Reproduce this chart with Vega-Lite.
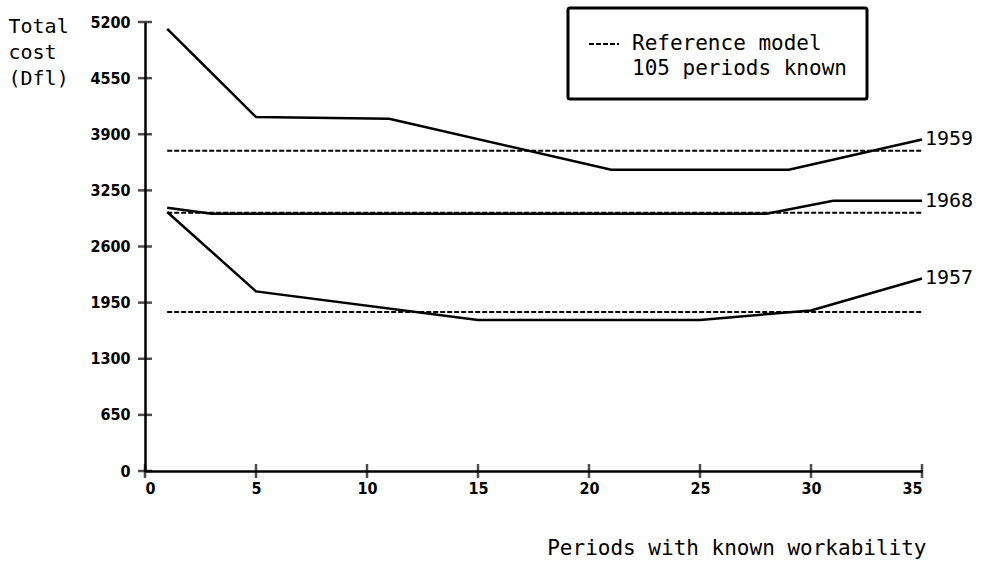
{
  "$schema": "https://vega.github.io/schema/vega-lite/v6.json",
  "width": 777,
  "height": 449,
  "autosize": "none",
  "padding": {"left": 145, "top": 22, "right": 64, "bottom": 90},
  "background": "white",
  "config": {
    "view": {"stroke": null},
    "font": "DejaVu Sans Mono",
    "axis": {
      "grid": false,
      "ticks": false,
      "domainColor": "black",
      "domainWidth": 2.5,
      "labelColor": "black",
      "labelFont": "Liberation Sans Narrow, DejaVu Sans Condensed, Liberation Sans",
      "labelFontWeight": "bold",
      "labelFontSize": 16,
      "titleColor": "black",
      "titleFont": "DejaVu Sans Mono",
      "titleFontSize": 20,
      "titleFontWeight": "normal"
    }
  },
  "datasets": {
    "costs": [
      {"series": "1959", "kind": "Modelled", "period": 1, "cost": 5120},
      {"series": "1959", "kind": "Modelled", "period": 5, "cost": 4100},
      {"series": "1959", "kind": "Modelled", "period": 11, "cost": 4080},
      {"series": "1959", "kind": "Modelled", "period": 21, "cost": 3490},
      {"series": "1959", "kind": "Modelled", "period": 29, "cost": 3490},
      {"series": "1959", "kind": "Modelled", "period": 35, "cost": 3840},
      {"series": "1968", "kind": "Modelled", "period": 1, "cost": 3050},
      {"series": "1968", "kind": "Modelled", "period": 3, "cost": 2980},
      {"series": "1968", "kind": "Modelled", "period": 28, "cost": 2980},
      {"series": "1968", "kind": "Modelled", "period": 31, "cost": 3130},
      {"series": "1968", "kind": "Modelled", "period": 35, "cost": 3130},
      {"series": "1957", "kind": "Modelled", "period": 1, "cost": 3000},
      {"series": "1957", "kind": "Modelled", "period": 5, "cost": 2080},
      {"series": "1957", "kind": "Modelled", "period": 15, "cost": 1750},
      {"series": "1957", "kind": "Modelled", "period": 25, "cost": 1750},
      {"series": "1957", "kind": "Modelled", "period": 30, "cost": 1860},
      {"series": "1957", "kind": "Modelled", "period": 35, "cost": 2230}
    ],
    "reference": [
      {"series": "1959", "model": "Reference model|105 periods known", "period": 1, "cost": 3710},
      {"series": "1959", "model": "Reference model|105 periods known", "period": 35, "cost": 3710},
      {"series": "1968", "model": "Reference model|105 periods known", "period": 1, "cost": 2990},
      {"series": "1968", "model": "Reference model|105 periods known", "period": 35, "cost": 2990},
      {"series": "1957", "model": "Reference model|105 periods known", "period": 1, "cost": 1840},
      {"series": "1957", "model": "Reference model|105 periods known", "period": 35, "cost": 1840}
    ],
    "yTicks": [
      {"cost": 0}, {"cost": 650}, {"cost": 1300}, {"cost": 1950}, {"cost": 2600},
      {"cost": 3250}, {"cost": 3900}, {"cost": 4550}, {"cost": 5200}
    ],
    "xTicks": [
      {"period": 0}, {"period": 5}, {"period": 10}, {"period": 15},
      {"period": 20}, {"period": 25}, {"period": 30}, {"period": 35}
    ]
  },
  "layer": [
    {
      "data": {"name": "reference"},
      "mark": {"type": "line", "color": "black", "strokeWidth": 2, "strokeDash": [5, 2]},
      "encoding": {
        "x": {
          "field": "period", "type": "quantitative",
          "scale": {"domain": [0, 35], "nice": false},
          "axis": {
            "values": [0, 5, 10, 15, 20, 25, 30, 35],
            "labelPadding": 9,
            "title": "Periods with known workability",
            "titleFontSize": 21,
            "titleAnchor": "end",
            "titleAlign": "right",
            "titleBaseline": "alphabetic",
            "titleX": 781,
            "titleY": 83
          }
        },
        "y": {
          "field": "cost", "type": "quantitative",
          "scale": {"domain": [0, 5200], "nice": false},
          "axis": {
            "values": [0, 650, 1300, 1950, 2600, 3250, 3900, 4550, 5200],
            "format": "d",
            "labelPadding": 15,
            "title": ["Total", "cost", "(Dfl)"],
            "titleAngle": 0,
            "titleAlign": "left",
            "titleBaseline": "top",
            "titleLineHeight": 26,
            "titleX": -137,
            "titleY": -6
          }
        },
        "detail": {"field": "series"},
        "strokeDash": {
          "field": "model", "type": "nominal",
          "scale": {"range": [[5, 2]]},
          "legend": {
            "orient": "none",
            "legendX": 423,
            "legendY": -14,
            "title": null,
            "symbolType": "stroke",
            "symbolStrokeColor": "black",
            "symbolStrokeWidth": 2,
            "symbolSize": 900,
            "symbolDash": [6, 2],
            "labelExpr": "split(datum.label, '|')",
            "labelFont": "DejaVu Sans Mono",
            "labelFontSize": 21,
            "labelColor": "black",
            "labelLimit": 400,
            "labelOffset": 12,
            "padding": 20,
            "strokeColor": "black",
            "fillColor": "white",
            "cornerRadius": 2,
            "encode": {
              "legend": {"update": {"strokeWidth": {"value": 3}}},
              "labels": {"update": {"lineHeight": {"value": 25}}}
            }
          }
        }
      }
    },
    {
      "data": {"name": "costs"},
      "mark": {"type": "line", "color": "black", "strokeWidth": 2.5},
      "encoding": {
        "x": {"field": "period", "type": "quantitative"},
        "y": {"field": "cost", "type": "quantitative"},
        "detail": {"field": "series"}
      }
    },
    {
      "data": {"name": "costs"},
      "transform": [{"filter": "datum.period == 35"}],
      "mark": {"type": "text", "align": "left", "baseline": "middle", "dx": 3, "font": "DejaVu Sans Mono", "fontSize": 20, "color": "black"},
      "encoding": {
        "x": {"field": "period", "type": "quantitative"},
        "y": {"field": "cost", "type": "quantitative"},
        "text": {"field": "series"}
      }
    },
    {
      "data": {"name": "yTicks"},
      "mark": {"type": "tick", "orient": "horizontal", "color": "black", "size": 14, "thickness": 2.5},
      "encoding": {
        "x": {"datum": 0, "type": "quantitative"},
        "y": {"field": "cost", "type": "quantitative"}
      }
    },
    {
      "data": {"name": "xTicks"},
      "mark": {"type": "tick", "orient": "vertical", "color": "black", "size": 14, "thickness": 2.5},
      "encoding": {
        "x": {"field": "period", "type": "quantitative"},
        "y": {"datum": 0, "type": "quantitative"}
      }
    }
  ]
}
